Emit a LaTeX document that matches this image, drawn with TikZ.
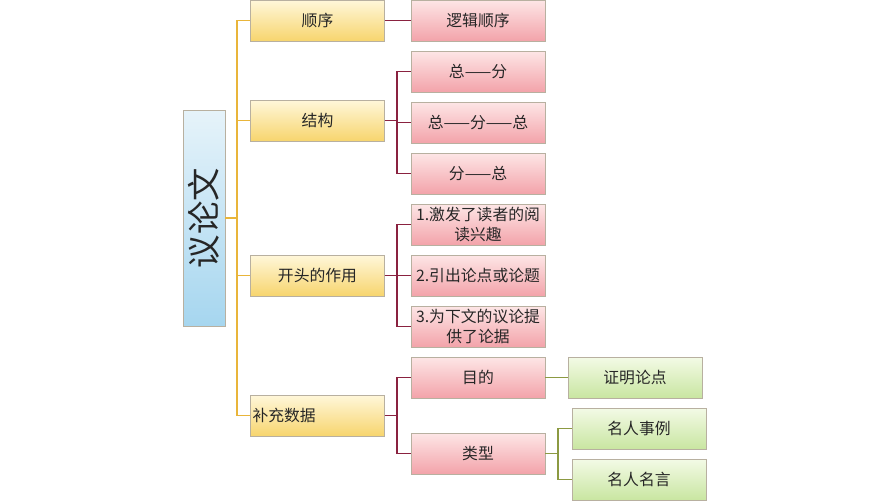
\documentclass[tikz,border=0pt]{standalone}
\usepackage{fontspec}
\setmainfont{Noto Sans CJK SC}
\usetikzlibrary{shadows}

\definecolor{ytop}{HTML}{FFF7DA}
\definecolor{ybot}{HTML}{F7D56E}
\definecolor{rtop}{HTML}{FDE6E6}
\definecolor{rbot}{HTML}{F3A3AA}
\definecolor{gtop}{HTML}{F3FAE6}
\definecolor{gbot}{HTML}{C9E6A1}
\definecolor{btop}{HTML}{E6F3FA}
\definecolor{bbot}{HTML}{A6D6EF}
\definecolor{yline}{HTML}{E9B53A}
\definecolor{rline}{HTML}{8A2240}
\definecolor{gline}{HTML}{8C9A42}
\definecolor{boxedge}{HTML}{B8B0A0}

\begin{document}
\begin{tikzpicture}[x=0.2mm,y=-0.2mm,
		box/.style={draw=boxedge, line width=0.4pt, inner sep=0pt,
			minimum width=26.8mm, minimum height=8.2mm, align=center,
			text=black!85, font=\fontsize{9}{11}\selectfont,
			drop shadow={shadow xshift=0.5pt, shadow yshift=-0.8pt, opacity=0.4}},
		ybox/.style={box, top color=ytop, bottom color=ybot},
		rbox/.style={box, top color=rtop, bottom color=rbot},
		gbox/.style={box, top color=gtop, bottom color=gbot},
		ylink/.style={draw=yline, line width=1.1pt},
		rlink/.style={draw=rline, line width=1.1pt},
		glink/.style={draw=gline, line width=1.1pt}]
	\useasboundingbox (0,0) rectangle (889,500);

	% root
	\node[box, top color=btop, bottom color=bbot, minimum width=8.4mm, minimum height=43.2mm]
		(yilun) at (204,218) {};
	\node[rotate=90, font=\fontsize{19}{19}\selectfont, text=black!85] at (yilun.center) {议论文};

	% first level
	\node[ybox] (shunxu) at (317.5,20.5) {顺序};
	\node[ybox] (jiegou) at (317.5,120.5) {结构};
	\node[ybox] (kaitou) at (317.5,275.5) {开头的作用};
	\node[ybox, text width=26mm, align=left] (buchong) at (317.5,415.5) {补充数据};

	% second level
	\node[rbox] (luoji) at (478,20.5) {逻辑顺序};
	\node[rbox] (zongfen) at (478,71.5) {总——分};
	\node[rbox] (zfz) at (478,122.5) {总——分——总};
	\node[rbox] (fenzong) at (478,173.5) {分——总};
	\node[rbox] (jifa) at (478,224.5) {1.激发了读者的阅\\读兴趣};
	\node[rbox] (yinchu) at (478,275.5) {2.引出论点或论题};
	\node[rbox] (tigong) at (478,326.5) {3.为下文的议论提\\供了论据};
	\node[rbox] (mudi) at (478,377.5) {目的};
	\node[rbox] (leixing) at (478,453.5) {类型};

	% third level
	\node[gbox] (zhengming) at (635,377.5) {证明论点};
	\node[gbox] (shili) at (639,428.5) {名人事例};
	\node[gbox] (mingyan) at (639,479.5) {名人名言};

	% connectors
	\coordinate (ybus) at (237,0);
	\coordinate (rbus) at (397,0);
	\coordinate (gbus) at (558,0);
	\foreach \t in {shunxu,jiegou,kaitou,buchong}
		\draw[ylink] (yilun.east) -- (yilun.east -| ybus) |- (\t.west);
	\draw[rlink] (shunxu.east) -- (luoji.west);
	\foreach \t in {zongfen,zfz,fenzong}
		\draw[rlink] (jiegou.east) -- (jiegou.east -| rbus) |- (\t.west);
	\foreach \t in {jifa,yinchu,tigong}
		\draw[rlink] (kaitou.east) -- (kaitou.east -| rbus) |- (\t.west);
	\foreach \t in {mudi,leixing}
		\draw[rlink] (buchong.east) -- (buchong.east -| rbus) |- (\t.west);
	\draw[glink] (mudi.east) -- (zhengming.west);
	\foreach \t in {shili,mingyan}
		\draw[glink] (leixing.east) -- (leixing.east -| gbus) |- (\t.west);
\end{tikzpicture}
\end{document}
